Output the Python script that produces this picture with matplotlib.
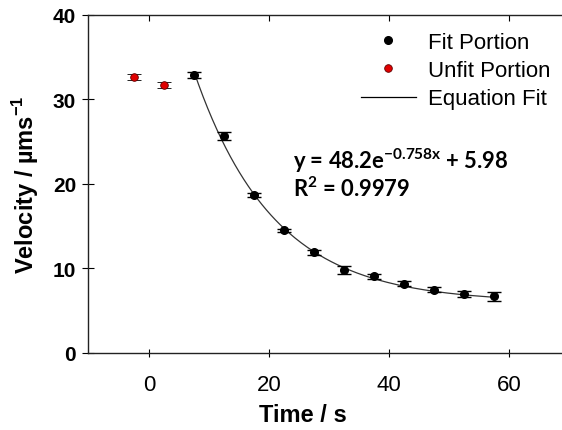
import matplotlib.pyplot as plt
import numpy as np
from matplotlib.lines import Line2D

# data
fit_time = [7.5, 12.5, 17.5, 22.5, 27.5, 32.5, 37.5, 42.5, 47.5, 52.5, 57.5]
fit_vel = [32.9, 25.7, 18.7, 14.5, 11.9, 9.8, 9.1, 8.2, 7.5, 7.0, 6.7]
fit_err = [0.3, 0.5, 0.25, 0.2, 0.25, 0.45, 0.3, 0.3, 0.3, 0.35, 0.5]

unfit_time = [-2.5, 2.5]
unfit_vel = [32.7, 31.7]
unfit_err = [0.35, 0.35]

# fit parameters as printed on the chart (x in units of 10 s)
fit_a = 48.2
fit_k = 0.758
fit_c = 5.98

plt.rcParams['font.family'] = ['Liberation Sans', 'DejaVu Sans']

fig = plt.figure(figsize=(5.62, 4.31), dpi=100)
ax = fig.add_axes([0.1566, 0.1787, 0.8434, 0.7842])

t_line = np.linspace(fit_time[0], fit_time[-1], 200)
ax.plot(t_line, fit_a * np.exp(-fit_k * t_line / 10) + fit_c, color='#333333', lw=0.9, zorder=2)

ax.errorbar(fit_time, fit_vel, yerr=fit_err, fmt='o', color='black', ms=5.5,
            mec='black', ecolor='black', elinewidth=1, capsize=5, capthick=1, zorder=3)
ax.errorbar(unfit_time, unfit_vel, yerr=unfit_err, fmt='o', color='#e00000', ms=5.5,
            mec='#600000', mew=0.6, ecolor='black', elinewidth=1, capsize=5, capthick=1, zorder=3)

ax.set_xlim(-10.17, 68.8)
ax.set_ylim(0, 40)
ax.set_xticks([0, 20, 40, 60])
ax.set_yticks([0, 10, 20, 30, 40])

ax.spines['right'].set_visible(False)
for s in ['left', 'bottom', 'top']:
    ax.spines[s].set_linewidth(1.0)
    ax.spines[s].set_color('#222222')

ax.tick_params(axis='x', direction='inout', length=6, width=0.8, labelsize=16, pad=12)
ax.tick_params(axis='y', direction='inout', length=9, width=0.8, labelsize=15, pad=4)
for lab in ax.get_yticklabels():
    lab.set_fontweight('bold')

top = ax.secondary_xaxis('top')
top.set_xticks([0, 20, 40, 60])
top.tick_params(axis='x', direction='in', length=4, width=0.8, labeltop=False)
top.spines['top'].set_visible(False)

ax.set_xlabel('Time / s', fontsize=17, fontweight='bold')
ax.xaxis.set_label_coords((303 - 88) / 474, -(404 - 354) / 338)
ax.set_ylabel('Velocity / µms$^{\\mathregular{-1}}$', fontsize=17, fontweight='bold')
ax.yaxis.set_label_coords(-(88 - 41) / 474, 0.5)

ax.text(24.0, 22.8, 'y = 48.2e$^{\\mathregular{-0.758x}}$ + 5.98', fontsize=15.8,
        fontweight='bold', family=['Lato', 'DejaVu Sans'], va='center')
ax.text(24.0, 19.6, 'R$^{\\mathregular{2}}$ = 0.9979', fontsize=15.8,
        fontweight='bold', family=['Lato', 'DejaVu Sans'], va='center')

handles = [
    Line2D([], [], ls='none', marker='o', color='black', ms=5.5),
    Line2D([], [], ls='none', marker='o', color='#e00000', mec='#600000', mew=0.6, ms=5.5),
    Line2D([], [], color='black', lw=0.9),
]
labels = ['Fit Portion', 'Unfit Portion', 'Equation Fit']
ax.legend(handles, labels, loc='upper right', bbox_to_anchor=(1.0, 1 - 22 / 431),
          bbox_transform=fig.transFigure, frameon=False, fontsize=16,
          handlelength=2.5, handletextpad=0.55, labelspacing=0.32, borderaxespad=0.1)

fig.savefig('out.png', dpi=100)
